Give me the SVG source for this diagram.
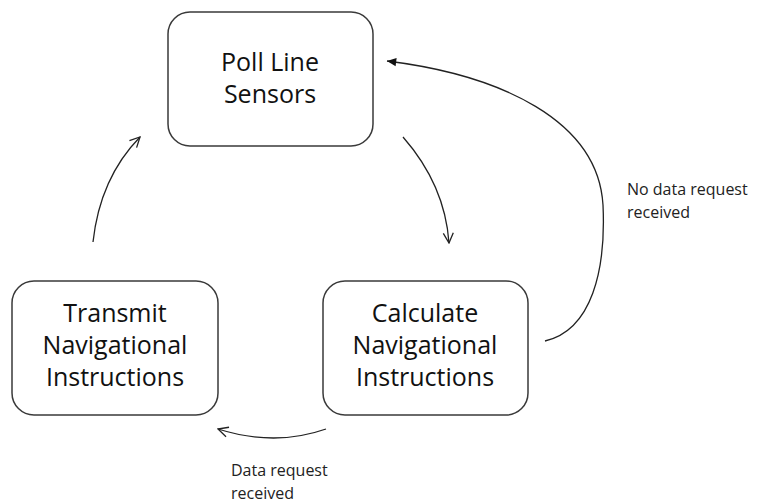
<svg xmlns="http://www.w3.org/2000/svg" width="757" height="503" viewBox="0 0 757 503">
<defs>
<style>
.box{fill:#fff;stroke:#3a3a3a;stroke-width:1.5}
.t{font-family:"Open Sans","Liberation Sans",sans-serif;font-size:25px;fill:#111;text-anchor:middle}
.l{font-family:"Open Sans","Liberation Sans",sans-serif;font-size:16px;fill:#222}
.c{fill:none;stroke:#222;stroke-width:1.3}
</style>
<marker id="open" viewBox="0 0 12 12" refX="11" refY="6" markerWidth="12" markerHeight="12" markerUnits="userSpaceOnUse" orient="auto">
<path d="M1,1 L11,6 L1,11" fill="none" stroke="#222" stroke-width="1.3"/>
</marker>
<marker id="fill" viewBox="0 0 12 12" refX="11" refY="6" markerWidth="11" markerHeight="11" markerUnits="userSpaceOnUse" orient="auto">
<path d="M1,1.5 L11,6 L1,10.5 Z" fill="#111"/>
</marker>
</defs>
<rect width="757" height="503" fill="#fff"/>
<g id="poll">
<rect class="box" x="168" y="12" width="205" height="134" rx="22"/>
<text class="t" x="270" y="71">Poll Line</text>
<text class="t" x="270" y="103">Sensors</text>
</g>
<g id="calculate">
<rect class="box" x="323" y="281" width="205" height="134" rx="22"/>
<text class="t" x="425" y="322">Calculate</text>
<text class="t" x="425" y="354">Navigational</text>
<text class="t" x="425" y="386">Instructions</text>
</g>
<g id="transmit">
<rect class="box" x="12" y="281" width="206" height="134" rx="22"/>
<text class="t" x="115" y="322">Transmit</text>
<text class="t" x="115" y="354">Navigational</text>
<text class="t" x="115" y="386">Instructions</text>
</g>
<g id="connectors">
<path class="c" d="M93,242 Q100,178 140,137" marker-end="url(#open)"/>
<path class="c" d="M403,137 Q445,185 449,243" marker-end="url(#open)"/>
<path class="c" d="M545,341 C592,330 606,270 603,205 C598,120 500,75 387,61" marker-end="url(#fill)"/>
<path class="c" d="M326,429 Q275,447 218,429" marker-end="url(#open)"/>
</g>
<g id="labels">
<text class="l" x="627" y="195">No data request</text>
<text class="l" x="627" y="218">received</text>
<text class="l" x="231" y="476">Data request</text>
<text class="l" x="231" y="499">received</text>
</g>
</svg>
